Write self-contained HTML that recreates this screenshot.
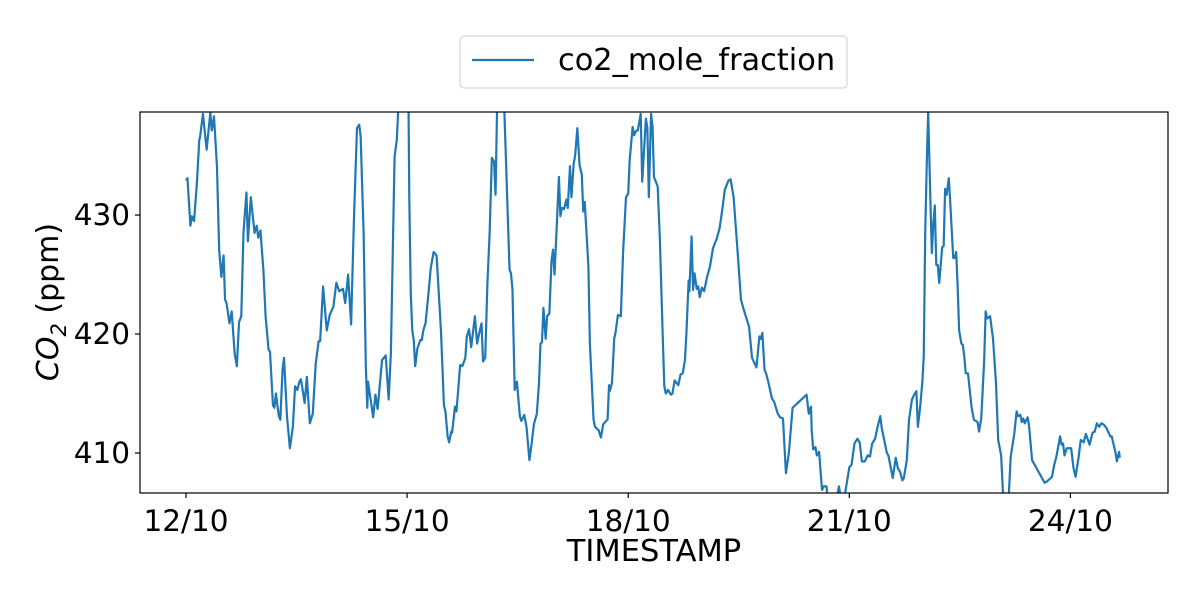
<!DOCTYPE html>
<html><head><meta charset="utf-8"><style>
html,body{margin:0;padding:0;background:#fff}
svg text{font-family:"DejaVu Sans","Liberation Sans",sans-serif;fill:#000}
</style></head><body>
<svg id="chart" width="1200" height="600" viewBox="0 0 1200 600" xmlns="http://www.w3.org/2000/svg">
<rect width="1200" height="600" fill="#fff"/>
<defs><clipPath id="clip"><rect x="140" y="112" width="1028" height="381"/></clipPath></defs>
<g id="series" clip-path="url(#clip)"></g>
<rect x="140" y="112" width="1028" height="381" fill="none" stroke="#000" stroke-width="1.2"/>
<g id="xticks"></g><g id="yticks"></g>
<text x="654" y="561" font-size="30.5" text-anchor="middle">TIMESTAMP</text>
<text transform="translate(58,302) rotate(-90)" font-size="30" text-anchor="middle"><tspan font-style="italic">CO</tspan><tspan font-style="italic" font-size="21" dy="8">2</tspan><tspan dy="-8"> (ppm)</tspan></text>
<g>
<rect x="460" y="36" width="387" height="52" rx="4" fill="#fff" stroke="#ccc" stroke-width="1"/>
<line x1="472" y1="60" x2="534" y2="60" stroke="#1f77b4" stroke-width="2.2"/>
<text x="558" y="70" font-size="30.4">co2_mole_fraction</text>
</g>
</svg>
<script>
const times=[0.00,0.02,0.06,0.08,0.11,0.15,0.18,0.19,0.23,0.28,0.33,0.35,0.38,0.42,0.45,0.48,0.51,0.53,0.55,0.59,0.62,0.66,0.69,0.72,0.75,0.78,0.82,0.84,0.88,0.93,0.96,0.98,1.01,1.05,1.08,1.12,1.14,1.18,1.20,1.22,1.26,1.28,1.31,1.33,1.37,1.41,1.45,1.48,1.51,1.54,1.56,1.61,1.64,1.68,1.72,1.76,1.80,1.82,1.86,1.91,1.95,2.00,2.04,2.08,2.13,2.16,2.20,2.24,2.28,2.32,2.35,2.37,2.41,2.44,2.46,2.47,2.54,2.57,2.60,2.66,2.71,2.75,2.78,2.83,2.86,2.88,2.93,2.99,3.02,3.03,3.05,3.07,3.09,3.11,3.14,3.18,3.20,3.22,3.25,3.29,3.32,3.36,3.40,3.45,3.46,3.50,3.52,3.55,3.57,3.60,3.61,3.65,3.67,3.72,3.75,3.79,3.81,3.84,3.87,3.92,3.95,3.98,4.01,4.03,4.06,4.09,4.12,4.15,4.18,4.20,4.22,4.26,4.30,4.32,4.39,4.41,4.43,4.46,4.49,4.53,4.55,4.59,4.62,4.66,4.69,4.72,4.76,4.79,4.81,4.83,4.85,4.88,4.90,4.93,4.96,4.98,5.00,5.03,5.06,5.08,5.10,5.13,5.16,5.18,5.21,5.23,5.26,5.28,5.31,5.34,5.37,5.39,5.41,5.46,5.48,5.53,5.55,5.60,5.63,5.66,5.70,5.72,5.74,5.75,5.78,5.81,5.83,5.86,5.90,5.93,5.97,6.00,6.02,6.06,6.08,6.11,6.13,6.17,6.19,6.24,6.26,6.28,6.31,6.33,6.35,6.40,6.43,6.47,6.49,6.51,6.54,6.58,6.60,6.63,6.68,6.71,6.74,6.77,6.79,6.82,6.83,6.86,6.88,6.90,6.93,6.95,6.97,7.00,7.03,7.07,7.11,7.15,7.20,7.24,7.28,7.31,7.36,7.39,7.43,7.48,7.53,7.57,7.64,7.68,7.74,7.78,7.80,7.82,7.85,7.87,7.90,7.95,7.98,8.03,8.06,8.10,8.14,8.18,8.23,8.42,8.45,8.48,8.49,8.51,8.54,8.56,8.59,8.63,8.65,8.69,8.71,8.81,8.86,8.89,8.94,9.00,9.03,9.07,9.11,9.14,9.17,9.21,9.25,9.28,9.31,9.35,9.38,9.42,9.44,9.47,9.51,9.53,9.59,9.63,9.66,9.69,9.72,9.74,9.78,9.81,9.85,9.88,9.91,9.93,9.96,9.99,10.01,10.03,10.05,10.07,10.10,10.12,10.14,10.16,10.18,10.20,10.22,10.26,10.28,10.30,10.32,10.35,10.37,10.41,10.43,10.45,10.47,10.49,10.52,10.54,10.56,10.58,10.61,10.66,10.69,10.74,10.76,10.79,10.83,10.85,10.87,10.91,10.95,10.99,11.02,11.06,11.09,11.16,11.19,11.21,11.24,11.27,11.29,11.32,11.34,11.36,11.38,11.42,11.44,11.48,11.65,11.68,11.75,11.78,11.81,11.86,11.88,11.90,11.92,11.95,12.01,12.04,12.07,12.11,12.14,12.18,12.21,12.26,12.30,12.33,12.36,12.39,12.42,12.45,12.49,12.54,12.56,12.61,12.63,12.66,12.67];
const co2=[432.9,433.1,429.1,429.9,429.5,432.9,436.3,436.5,438.5,435.5,438.6,437.1,438.3,434.1,427.1,424.8,426.6,422.9,422.6,420.9,421.9,418.4,417.3,421.0,421.5,428.5,431.9,427.8,431.5,428.5,429.1,428.1,428.7,425.4,421.5,418.7,418.5,414.0,413.8,415.0,413.1,412.8,417.0,418.0,413.1,410.4,412.2,415.6,415.3,416.0,416.2,414.2,416.4,412.5,413.3,417.5,419.4,419.4,424.0,420.3,421.6,422.3,424.3,423.6,423.8,422.6,425.0,420.8,429.9,437.3,437.6,436.6,428.5,417.3,413.8,416.0,413.0,414.9,413.7,417.8,418.2,414.5,418.4,434.9,436.3,438.9,443.0,442.0,438.7,431.3,423.4,420.3,419.5,417.3,418.8,419.5,419.5,420.3,420.9,423.4,425.5,426.9,426.6,421.3,420.2,414.0,413.5,411.4,410.9,411.8,411.7,413.9,413.5,417.4,417.3,418.0,419.8,420.4,418.9,421.5,419.2,420.1,420.9,417.7,418.0,424.3,428.5,434.8,434.5,431.7,438.7,441.0,440.0,438.7,425.4,425.1,423.7,415.3,416.0,413.1,412.7,413.2,412.2,409.4,410.8,412.4,413.3,415.9,419.2,419.3,422.2,419.6,421.5,421.7,426.2,427.1,425.0,429.0,433.2,429.9,430.6,430.5,431.3,430.6,434.1,431.5,434.3,435.0,437.3,434.2,433.4,430.3,431.1,425.7,419.2,412.8,412.2,411.9,411.3,412.4,412.7,412.8,415.7,415.2,415.9,419.6,420.2,421.6,421.5,426.8,431.5,431.8,434.6,437.4,436.7,437.1,437.1,438.5,432.8,438.1,437.3,431.5,438.5,437.4,433.2,432.4,427.9,419.5,415.6,415.0,415.3,414.9,415.0,416.1,415.7,416.6,416.7,417.8,420.1,424.5,423.6,428.2,423.7,425.1,423.8,424.0,423.1,423.9,423.6,424.8,425.7,427.2,428.0,428.9,430.6,432.1,432.9,433.0,431.5,427.3,422.9,422.0,420.6,418.0,417.2,419.8,419.6,420.1,417.0,416.7,416.0,414.6,414.3,413.3,413.0,412.9,408.3,410.0,413.8,414.9,413.3,413.9,411.9,410.3,410.5,409.8,410.1,406.9,407.2,407.2,406.0,405.6,407.2,406.0,406.5,408.8,409.0,410.8,411.2,410.9,409.3,409.3,409.8,409.7,410.8,411.2,412.1,413.1,412.1,411.2,410.0,409.8,407.9,409.6,408.7,408.4,407.7,407.9,409.4,412.8,414.5,414.9,415.2,412.2,413.8,415.9,418.1,428.5,434.1,438.7,431.3,426.8,429.3,430.8,425.8,425.8,424.3,427.3,427.4,432.2,431.7,433.1,431.0,426.4,426.4,426.9,424.0,420.3,419.2,419.1,418.1,416.7,416.7,413.8,412.8,412.6,411.8,412.9,417.8,421.9,421.3,421.5,419.6,415.9,411.1,409.8,406.0,406.0,409.7,410.5,411.7,413.5,413.1,413.2,412.6,412.9,412.5,413.0,412.2,409.4,407.5,407.6,408.0,409.0,409.7,411.4,410.7,410.8,409.8,410.4,410.4,408.8,408.0,409.6,411.1,410.9,411.6,410.7,411.7,411.8,412.5,412.2,412.5,412.4,412.1,411.4,411.4,410.1,409.3,410.1,409.6];
const xTickDays=[0,3,6,9,12];
const xTickLabels=["12/10","15/10","18/10","21/10","24/10"];
const yTickValues=[410,420,430];

const NS="http://www.w3.org/2000/svg";
const L=140,R=1168,T=112,B=493;
const X0=-0.624,X1=13.324,Y0=406.64,Y1=438.66;
function xs(t){return L+(t-X0)/(X1-X0)*(R-L);}
function ys(v){return B-(v-Y0)/(Y1-Y0)*(B-T);}
function mk(tag,attrs,parent){const e=document.createElementNS(NS,tag);for(const k in attrs)e.setAttribute(k,attrs[k]);parent.appendChild(e);return e;}

const series=document.getElementById('series');
let d='';
for(let i=0;i<times.length;i++){d+=(i?'L':'M')+xs(times[i]).toFixed(2)+' '+ys(co2[i]).toFixed(2);}
const line=mk('path',{d:d,fill:'none',stroke:'#1f77b4','stroke-width':2.2,'stroke-linejoin':'round'},series);



const xg=document.getElementById('xticks');
xTickDays.forEach((t,i)=>{
  const x=xs(t);
  const tk=mk('line',{x1:x,y1:B,x2:x,y2:B+5,stroke:'#000','stroke-width':1.2},xg);
  
  
  const tx=mk('text',{x:x,y:B+38,'font-size':29.5,'text-anchor':'middle'},xg);
  tx.textContent=xTickLabels[i];
  
  
});
const yg=document.getElementById('yticks');
yTickValues.forEach(v=>{
  const y=ys(v);
  const tk=mk('line',{x1:L-5,y1:y,x2:L,y2:y,stroke:'#000','stroke-width':1.2},yg);
  
  
  const tx=mk('text',{x:L-10,y:y+10,'font-size':29.5,'text-anchor':'end'},yg);
  tx.textContent=String(v);
  
  
});
</script>
</body></html>
